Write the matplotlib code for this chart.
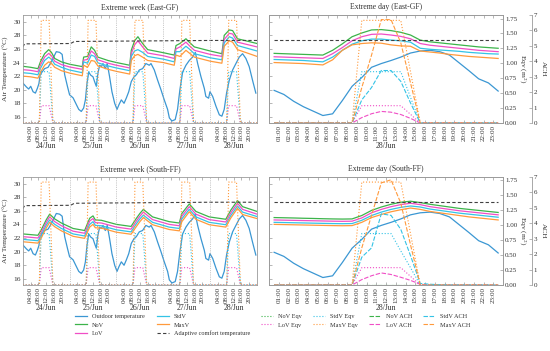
import matplotlib
matplotlib.use("Agg")
import matplotlib.pyplot as plt
from matplotlib.transforms import blended_transform_factory


plt.rcParams["font.family"] = ["Liberation Serif", "DejaVu Serif"]
plt.rcParams["mathtext.fontset"] = "stix"

# ------------------------------------------------------------------
# Data
# ------------------------------------------------------------------
DAY_NAMES = ["24/Jun", "25/Jun", "26/Jun", "27/Jun", "28/Jun"]
WEEK_TICKS = [4, 8, 12, 16, 20]
WEEK_TICK_LABELS = ["04:00", "08:00", "12:00", "16:00", "20:00"]
DAY_TICKS = [1, 2, 3, 4, 5, 6, 7, 8, 9, 10, 11, 12, 13, 14, 15, 16, 17, 18, 19, 20, 21, 22, 23]
DAY_TICK_LABELS = ["01:00", "02:00", "03:00", "04:00", "05:00", "06:00", "07:00", "08:00",
                   "09:00", "10:00", "11:00", "12:00", "13:00", "14:00", "15:00", "16:00",
                   "17:00", "18:00", "19:00", "20:00", "21:00", "22:00", "23:00"]

# outdoor temperature, extreme week (hours from 24/Jun 00:00)
week_out_h = [0, 1.9, 3.05, 4.1, 5.3, 6.5, 7.5, 8.3, 8.9, 9.9, 11.2, 13, 15, 17.2, 18.9, 20.2,
              21.5, 22.9, 24, 25.8, 27.5, 28.7, 30, 31.2, 32.1, 32.9, 33.8, 34.8, 36, 36.8,
              37.7, 38.5, 39.4, 40.3, 41.1, 42.3, 43.3, 44.5, 45.7, 47.1, 48.3, 49.3, 50.5,
              51.9, 53.1, 54.3, 55.6, 57, 58.2, 59.7, 61.4, 63.1, 64.8, 65.7, 67.4, 69.1,
              70.8, 72.5, 74.2, 75.1, 76.4, 78.1, 79.3, 80.5, 81.9, 83.6, 85.3, 87, 88.4,
              89.6, 91.3, 93, 93.8, 95.2, 95.9, 97.3, 99, 100.7, 102, 103.2, 104.4, 105.8,
              107.5, 109.2, 110.9, 112.6, 114.3, 116, 117.7, 119.4]
week_out_t = [21.0, 20.4, 20.1, 20.5, 19.7, 19.5, 20.2, 20.9, 22.15, 22.6, 23.1, 23.3, 24.3,
              25.6, 25.5, 25.2, 22.2, 20.5, 19.25, 18.8, 17.8, 17.1, 16.8, 17.3, 18.5, 20.9,
              22.6, 22.15, 21.9, 21.2, 20.5, 22.4, 23.6, 23.4, 23.85, 23.1, 23.85, 21.9, 19.7,
              18.0, 17.1, 17.8, 18.5, 18.0, 18.8, 19.7, 21.2, 21.9, 22.2, 22.9, 23.1, 23.85,
              23.6, 23.85, 22.9, 21.4, 20.0, 18.5, 17.1, 15.85, 15.4, 15.6, 17.1, 20.0, 22.6,
              23.6, 24.3, 24.8, 25.5, 23.85, 21.9, 20.2, 19.0, 18.75, 19.7, 19.0, 17.55, 16.3,
              16.1, 17.1, 19.5, 21.4, 22.9, 23.85, 24.8, 25.3, 24.6, 23.4, 21.4, 19.5]

# adaptive comfort temperature, extreme week
week_adapt_h = [0, 1, 24.5, 26.5, 48, 72, 96, 120]
week_adapt_t = [26.3, 26.75, 26.8, 27.1, 27.15, 27.2, 27.25, 27.25]

# indoor temperatures, extreme week (East-GF)
east_week_h = [0, 4, 7.8, 9.2, 11.2, 13.3, 14.7, 16.4, 19.8, 24, 30.5, 31.2, 33.2, 35.1, 36.8,
               38.5, 43.7, 48, 54.8, 55.6, 57.3, 59, 61.4, 64, 72, 77.6, 78.5, 80.5, 83.6,
               85.3, 87.9, 96, 102, 103.2, 105.8, 107.5, 110, 120]
east_week_nov = [23.45, 23.3, 23.1, 24.2, 25.3, 25.9, 25.5, 24.6, 24.1, 23.75, 23.4, 24.8,
                 24.9, 26.3, 25.8, 24.8, 24.3, 24.0, 23.6, 25.8, 27.2, 27.8, 26.8, 25.9,
                 25.45, 25.1, 26.5, 26.8, 27.5, 27.0, 26.3, 25.7, 25.3, 28.0, 28.8, 28.7,
                 27.5, 26.8]
east_week_lov = [22.95, 22.85, 22.65, 23.7, 24.8, 25.35, 25.0, 24.2, 23.7, 23.35, 23.0, 24.35,
                 24.45, 25.7, 25.3, 24.4, 23.9, 23.6, 23.2, 25.3, 26.6, 27.2, 26.3, 25.4,
                 25.0, 24.6, 26.0, 26.3, 27.0, 26.5, 25.8, 25.2, 24.9, 27.4, 28.3, 28.2,
                 27.0, 26.3]
east_week_stdv = [22.5, 22.4, 22.2, 23.2, 24.3, 24.8, 24.5, 23.75, 23.3, 22.9, 22.5, 24.1,
                  23.9, 25.1, 24.9, 23.95, 23.5, 23.2, 22.8, 24.9, 25.7, 25.9, 25.5, 24.9,
                  24.5, 24.1, 25.6, 25.6, 26.4, 26.0, 25.3, 24.7, 24.4, 26.9, 27.8, 27.6,
                  26.5, 25.7]
east_week_maxv = [22.0, 21.9, 21.7, 22.6, 23.6, 24.1, 23.9, 23.3, 22.8, 22.45, 22.05, 23.6,
                  23.3, 24.3, 24.2, 23.5, 23.0, 22.7, 22.3, 24.3, 25.0, 25.2, 24.8, 24.3,
                  24.0, 23.6, 25.1, 24.9, 25.8, 25.4, 24.8, 24.2, 23.9, 26.4, 27.2, 27.0,
                  25.9, 24.9]

# indoor temperatures, extreme week (South-FF)
south_week_h = [0, 4, 7.8, 9.5, 12.1, 13.8, 16.4, 19.8, 25.8, 31.7, 34.3, 36, 37.2, 40.3, 48,
                55.5, 58, 60, 61.8, 66.5, 75, 80.2, 81.5, 85.3, 88.7, 95.5, 104, 106.6, 110,
                112.6, 120]
south_week_nov = [22.6, 22.5, 22.4, 23.2, 24.7, 25.5, 24.8, 24.2, 23.4, 23.1, 24.9, 25.25,
                  24.65, 24.6, 24.0, 23.7, 24.8, 25.6, 26.2, 25.1, 24.4, 24.2, 25.6, 27.0,
                  25.9, 25.1, 24.75, 26.1, 27.5, 26.6, 25.9]
south_week_lov = [22.2, 22.1, 22.0, 22.8, 24.3, 25.1, 24.4, 23.8, 23.0, 22.7, 24.5, 24.85,
                  24.25, 24.2, 23.6, 23.3, 24.4, 25.2, 25.8, 24.7, 24.0, 23.8, 25.2, 26.6,
                  25.5, 24.7, 24.35, 25.7, 27.1, 26.2, 25.5]
south_week_stdv = [21.8, 21.7, 21.6, 22.4, 23.9, 24.65, 24.0, 23.4, 22.6, 22.3, 24.0, 24.4,
                   23.85, 23.8, 23.2, 22.9, 24.0, 24.8, 25.35, 24.3, 23.6, 23.4, 24.8, 26.2,
                   25.1, 24.3, 23.95, 25.3, 26.7, 25.8, 25.15]
south_week_maxv = [21.45, 21.35, 21.25, 22.0, 23.5, 24.3, 23.65, 23.05, 22.25, 21.95, 23.6,
                   24.0, 23.5, 23.45, 22.85, 22.55, 23.6, 24.4, 25.0, 23.95, 23.25, 23.05,
                   24.4, 25.85, 24.75, 23.95, 23.6, 24.95, 26.35, 25.45, 24.85]

# equivalent opening area (m2), extreme week (same pattern both zones)
week_eqv_h = [0, 8.5, 9.5, 13.5, 15.5, 32.5, 33.5, 37.5, 39.5, 56.5, 57.5, 61.5, 63.5,
              80.5, 81.5, 85.5, 87.5, 104.5, 105.5, 109.5, 111.5, 120]
week_nov_eqv = [0, 0, 0, 0, 0, 0, 0, 0, 0, 0, 0, 0, 0, 0, 0, 0, 0, 0, 0, 0, 0, 0]
week_lov_eqv = [0, 0, 0.29, 0.29, 0, 0, 0.29, 0.29, 0, 0, 0.29, 0.29, 0, 0, 0.29, 0.29, 0,
                0, 0.29, 0.29, 0, 0]
week_stdv_eqv = [0, 0, 0.86, 0.86, 0, 0, 0.86, 0.86, 0, 0, 0.86, 0.86, 0, 0, 0.86, 0.86, 0,
                 0, 0.86, 0.86, 0, 0]
week_maxv_eqv = [0, 0, 1.72, 1.72, 0, 0, 1.72, 1.72, 0, 0, 1.72, 1.72, 0, 0, 1.72, 1.72, 0,
                 0, 1.72, 1.72, 0, 0]

# extreme day 28/Jun (hourly values at half past)
day_h = [0.5, 1.5, 2.5, 3.5, 4.5, 5.5, 6.5, 7.5, 8.5, 9.5, 10.5, 11.5, 12.5, 13.5, 14.5,
         15.5, 16.5, 17.5, 18.5, 19.5, 20.5, 21.5, 22.5, 23.5]
day_out = [19.9, 19.3, 18.3, 17.5, 16.85, 16.2, 16.45, 18.4, 20.5, 21.8, 23.3, 23.85, 24.3,
           24.8, 25.4, 25.7, 25.8, 25.6, 25.1, 23.95, 22.8, 21.6, 21.0, 19.8]
day_adapt = [27.25, 27.25, 27.25, 27.25, 27.25, 27.25, 27.25, 27.25, 27.25, 27.25, 27.25,
             27.25, 27.25, 27.25, 27.25, 27.25, 27.25, 27.25, 27.25, 27.25, 27.25, 27.25,
             27.25, 27.25]

east_day_nov = [25.35, 25.3, 25.25, 25.2, 25.15, 25.1, 25.8, 26.75, 27.8, 28.35, 28.8, 28.85,
                28.7, 28.45, 28.05, 27.3, 27.05, 26.9, 26.75, 26.6, 26.45, 26.3, 26.2, 26.1]
east_day_lov = [24.85, 24.8, 24.75, 24.7, 24.65, 24.6, 25.3, 26.2, 27.2, 27.8, 28.15, 28.2,
                28.05, 27.85, 27.5, 26.8, 26.55, 26.4, 26.25, 26.1, 25.95, 25.8, 25.7, 25.6]
east_day_stdv = [24.45, 24.4, 24.35, 24.3, 24.2, 24.1, 24.8, 25.8, 26.7, 27.2, 27.45, 27.45,
                 27.3, 27.2, 27.0, 26.1, 25.95, 25.85, 25.75, 25.65, 25.5, 25.4, 25.3, 25.25]
east_day_maxv = [24.0, 23.95, 23.9, 23.85, 23.75, 23.65, 24.4, 25.8, 26.6, 26.8, 26.9, 26.85,
                 26.6, 26.45, 26.4, 25.7, 25.55, 25.4, 25.2, 25.05, 24.9, 24.8, 24.7, 24.6]

south_day_nov = [25.0, 24.97, 24.94, 24.9, 24.87, 24.83, 24.8, 24.78, 24.8, 25.3, 26.05,
                 26.55, 26.95, 27.25, 27.4, 27.2, 26.95, 26.75, 26.55, 26.35, 26.2, 26.05,
                 25.9, 25.75]
south_day_lov = [24.65, 24.62, 24.59, 24.56, 24.53, 24.5, 24.47, 24.45, 24.47, 24.95, 25.7,
                 26.2, 26.6, 26.9, 27.1, 26.9, 26.6, 26.4, 26.2, 26.0, 25.85, 25.7, 25.55,
                 25.4]
south_day_stdv = [24.3, 24.27, 24.24, 24.21, 24.18, 24.15, 24.12, 24.1, 24.12, 24.6, 25.3,
                  25.8, 26.2, 26.5, 26.7, 26.55, 26.25, 26.05, 25.85, 25.65, 25.5, 25.35,
                  25.2, 25.05]
south_day_maxv = [24.0, 23.97, 23.94, 23.91, 23.88, 23.85, 23.82, 23.8, 23.82, 24.3, 25.0,
                  25.45, 25.85, 26.15, 26.4, 26.2, 25.9, 25.7, 25.5, 25.3, 25.1, 24.95, 24.8,
                  24.65]

# Eqv (m2) and ACH on the extreme day
day_nov_eqv = [0] * 24
day_lov_eqv = [0, 0, 0, 0, 0, 0, 0, 0, 0, 0.29, 0.29, 0.29, 0.29, 0.29, 0.145, 0, 0, 0, 0,
               0, 0, 0, 0, 0]
east_day_stdv_eqv = [0, 0, 0, 0, 0, 0, 0, 0, 0, 0.86, 0.86, 0.86, 0.86, 0.86, 0.43, 0, 0, 0,
                     0, 0, 0, 0, 0, 0]
south_day_stdv_eqv = [0, 0, 0, 0, 0, 0, 0, 0, 0, 0.86, 0.86, 0.86, 0.86, 0.57, 0.29, 0, 0, 0,
                      0, 0, 0, 0, 0, 0]
day_maxv_eqv = [0, 0, 0, 0, 0, 0, 0, 0, 0, 1.72, 1.72, 1.72, 1.72, 1.72, 0.86, 0, 0, 0, 0,
                0, 0, 0, 0, 0]

day_nov_ach = [0] * 24
east_day_lov_ach = [0, 0, 0, 0, 0, 0, 0, 0, 0, 0.35, 0.6, 0.75, 0.7, 0.55, 0.3, 0, 0, 0, 0,
                    0, 0, 0, 0, 0]
east_day_stdv_ach = [0, 0, 0, 0, 0, 0, 0, 0, 0, 1.5, 2.3, 3.4, 3.4, 2.7, 1.3, 0, 0, 0, 0, 0,
                     0, 0, 0, 0]
east_day_maxv_ach = [0, 0, 0, 0, 0, 0, 0, 0, 0, 2.3, 4.4, 6.7, 6.7, 5.2, 2.6, 0, 0, 0, 0, 0,
                     0, 0, 0, 0]
south_day_lov_ach = [0, 0, 0, 0, 0, 0, 0, 0, 0, 0.35, 0.6, 0.78, 0.68, 0.5, 0.3, 0.05, 0, 0,
                     0, 0, 0, 0, 0, 0]
south_day_stdv_ach = [0, 0, 0, 0, 0, 0, 0, 0, 0, 1.8, 2.4, 4.6, 4.5, 3.6, 1.9, 0.1, 0.05,
                      0.02, 0, 0, 0, 0, 0, 0]
south_day_maxv_ach = [0, 0, 0, 0, 0, 0, 0, 0, 0, 2.4, 4.5, 6.6, 6.8, 5.3, 2.6, 0, 0, 0, 0, 0,
                      0, 0, 0, 0]

# ------------------------------------------------------------------
# Style
# ------------------------------------------------------------------
C_OUT = "#3b97d3"
C_NOV = "#3cb34a"
C_LOV = "#f04ec6"
C_STD = "#34c3e6"
C_MAX = "#ff9a3c"
C_ADP = "#404040"
GRAY = "#9a9a9a"
TXT = "#333333"

T_LIM = (15.1, 31.0)
EQV_LIM = (0, 1.81)
ACH_LIM = (0, 7)


def style_ax(ax):
    for s in ax.spines.values():
        s.set_color(GRAY)
        s.set_linewidth(0.6)
    ax.tick_params(direction="in", length=2, width=0.5, colors=GRAY, labelcolor=TXT,
                   labelsize=5, top=True, right=True, pad=1.5)


def day_labels(ax, centres, names):
    tr = blended_transform_factory(ax.transData, ax.transAxes)
    for c, n in zip(centres, names):
        ax.text(c, -0.21, n, transform=tr, ha="center", va="center", fontsize=5.6, color=TXT)


def draw_temps(ax, x, nov, lov, stdv, maxv):
    ax.plot(x, nov, color=C_NOV, lw=0.9, label="NoV")
    ax.plot(x, lov, color=C_LOV, lw=0.9, label="LoV")
    ax.plot(x, stdv, color=C_STD, lw=0.9, label="StdV")
    ax.plot(x, maxv, color=C_MAX, lw=0.9, label="MaxV")


def draw_week(ax, title, x, nov, lov, stdv, maxv):
    style_ax(ax)
    eqv = ax.twinx()
    eqv.set_axis_off()
    eqv.plot(week_eqv_h, week_nov_eqv, color=C_NOV, lw=0.8, ls=":")
    eqv.plot(week_eqv_h, week_lov_eqv, color=C_LOV, lw=0.8, ls=":")
    eqv.plot(week_eqv_h, week_stdv_eqv, color=C_STD, lw=0.8, ls=":")
    eqv.plot(week_eqv_h, week_maxv_eqv, color=C_MAX, lw=0.8, ls=":")
    eqv.set_ylim(*EQV_LIM)

    ax.plot(week_out_h, week_out_t, color=C_OUT, lw=0.9)
    draw_temps(ax, x, nov, lov, stdv, maxv)
    ax.plot(week_adapt_h, week_adapt_t, color=C_ADP, lw=0.8, ls=(0, (3, 2)))

    for d in range(1, 5):
        ax.axvline(d * 24, color=GRAY, lw=0.5, ls=":")

    ax.set_xlim(0, 120)
    ax.set_ylim(*T_LIM)
    ax.set_yticks([16, 18, 20, 22, 24, 26, 28, 30])
    ax.tick_params(axis="y", labelsize=5.4)
    ax.set_xticks([d * 24 + h for d in range(5) for h in WEEK_TICKS])
    ax.set_xticklabels(WEEK_TICK_LABELS * 5, rotation=90, fontsize=5)
    ax.set_ylabel("Air Temperature (°C)", fontsize=5.4, color=TXT)
    ax.yaxis.set_label_coords(-0.058, 0.5)
    ax.set_title(title, fontsize=5.6, color=TXT, pad=4)
    day_labels(ax, [d * 24 + 12 for d in range(5)], DAY_NAMES)


def draw_day(ax, title, nov, lov, stdv, maxv, stdv_eqv, lov_ach, stdv_ach, maxv_ach):
    style_ax(ax)
    ax.tick_params(labelleft=False, right=False)

    ax.plot(day_h, day_out, color=C_OUT, lw=0.9, label="Outdoor temperature")
    draw_temps(ax, day_h, nov, lov, stdv, maxv)
    ax.plot(day_h, day_adapt, color=C_ADP, lw=0.8, ls=(0, (3, 2)),
            label="Adaptive comfort temperature")
    ax.set_xlim(0, 24)
    ax.set_ylim(*T_LIM)
    ax.set_yticks([16, 18, 20, 22, 24, 26, 28, 30])
    ax.set_xticks(DAY_TICKS)
    ax.set_xticklabels(DAY_TICK_LABELS, rotation=90, fontsize=5)
    ax.set_title(title, fontsize=5.6, color=TXT, pad=4)
    day_labels(ax, [12], ["28/Jun"])

    # equivalent area axis
    eqv = ax.twinx()
    style_ax(eqv)
    eqv.tick_params(left=False, top=False, labelleft=False)
    eqv.plot(day_h, day_nov_eqv, color=C_NOV, lw=0.8, ls=":", label="NoV Eqv")
    eqv.plot(day_h, day_lov_eqv, color=C_LOV, lw=0.8, ls=":", label="LoV Eqv")
    eqv.plot(day_h, stdv_eqv, color=C_STD, lw=0.8, ls=":", label="StdV Eqv")
    eqv.plot(day_h, day_maxv_eqv, color=C_MAX, lw=0.8, ls=":", label="MaxV Eqv")
    eqv.set_ylim(*EQV_LIM)
    eqv.set_yticks([0, 0.25, 0.5, 0.75, 1.0, 1.25, 1.5, 1.75])
    eqv.set_yticklabels(["0.00", "0.25", "0.50", "0.75", "1.00", "1.25", "1.50", "1.75"])
    eqv.set_ylabel("Eqv (m$^2$)", fontsize=5.4, color=TXT, rotation=270,
                   va="center", ha="center")
    eqv.yaxis.set_label_coords(1.083, 0.5)

    # air changes per hour axis
    ach = ax.twinx()
    for k in ("left", "top", "bottom"):
        ach.spines[k].set_visible(False)
    ach.spines["right"].set_position(("axes", 1.123))
    ach.spines["right"].set_color(GRAY)
    ach.spines["right"].set_linewidth(0.6)
    ach.tick_params(direction="in", length=2, width=0.5, colors=GRAY, labelcolor=TXT,
                    labelsize=5, pad=1.5)
    ach.plot(day_h, day_nov_ach, color=C_NOV, lw=0.8, ls=(0, (4, 1.5)), label="NoV ACH")
    ach.plot(day_h, lov_ach, color=C_LOV, lw=0.8, ls=(0, (4, 1.5)), label="LoV ACH")
    ach.plot(day_h, stdv_ach, color=C_STD, lw=0.8, ls=(0, (4, 1.5)), label="StdV ACH")
    ach.plot(day_h, maxv_ach, color=C_MAX, lw=0.8, ls=(0, (4, 1.5)), label="MaxV ACH")
    ach.set_ylim(*ACH_LIM)
    ach.set_yticks([0, 1, 2, 3, 4, 5, 6, 7])
    ach.set_ylabel("ACH", fontsize=5.4, color=TXT, rotation=270, va="center", ha="center")
    ach.yaxis.set_label_coords(1.172, 0.5)
    return ax, eqv, ach


fig = plt.figure(figsize=(5.5, 3.51), dpi=100)
ax_we = fig.add_axes([0.0413, 0.6496, 0.426, 0.3077])
ax_de = fig.add_axes([0.4896, 0.6496, 0.425, 0.3077])
ax_ws = fig.add_axes([0.0413, 0.188, 0.426, 0.3086])
ax_ds = fig.add_axes([0.4896, 0.188, 0.425, 0.3086])

draw_week(ax_we, "Extreme week (East-GF)", east_week_h, east_week_nov, east_week_lov,
          east_week_stdv, east_week_maxv)
draw_week(ax_ws, "Extreme week (South-FF)", south_week_h, south_week_nov, south_week_lov,
          south_week_stdv, south_week_maxv)
t_ax, e_ax, a_ax = draw_day(ax_de, "Extreme day (East-GF)", east_day_nov, east_day_lov,
                            east_day_stdv, east_day_maxv, east_day_stdv_eqv, east_day_lov_ach,
                            east_day_stdv_ach, east_day_maxv_ach)
draw_day(ax_ds, "Extreme day (South-FF)", south_day_nov, south_day_lov, south_day_stdv,
         south_day_maxv, south_day_stdv_eqv, south_day_lov_ach, south_day_stdv_ach,
         south_day_maxv_ach)

# legends below the panels
leg_kw = dict(loc="upper left", frameon=False, fontsize=4.5, handlelength=1.9,
              handletextpad=0.8, labelspacing=0.45, borderpad=0, borderaxespad=0,
              labelcolor=TXT)
h_t, l_t = t_ax.get_legend_handles_labels()
fig.legend(h_t, l_t, ncol=2, bbox_to_anchor=(75 / 550, 1 - 314 / 351),
           columnspacing=2.0, **leg_kw)
h_e, l_e = e_ax.get_legend_handles_labels()
h_a, l_a = a_ax.get_legend_handles_labels()
fig.legend(h_e + h_a, l_e + l_a, ncol=4, bbox_to_anchor=(261 / 550, 1 - 314 / 351),
           columnspacing=1.8, **leg_kw)

fig.savefig("out.png", dpi=100)
